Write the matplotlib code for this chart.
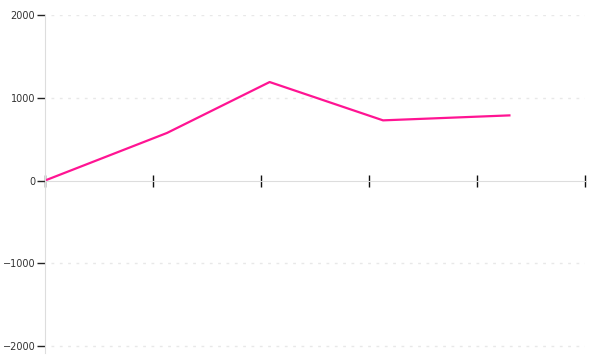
import matplotlib
matplotlib.use('Agg')
import matplotlib.pyplot as plt

plt.rcParams['font.family'] = 'DejaVu Sans'
plt.rcParams['font.size'] = 7

# data
x_vals = [0.0, 1.13, 2.08, 3.13, 4.30]
y_vals = [0, 575, 1190, 727, 787]
y_ticks = [-2000, -1000, 0, 1000, 2000]
x_ticks = [0, 1, 2, 3, 4, 5]

fig = plt.figure(figsize=(6, 3.6), dpi=100)
ax = fig.add_axes([45 / 600, 7 / 360, 540 / 600, 338 / 360])

ax.plot(x_vals, y_vals, color='#ff1493', linewidth=1.6, zorder=2)

ax.set_xlim(0, 5)
ax.set_ylim(-2084, 2000)

ax.set_yticks(y_ticks)
ax.set_xticks(x_ticks)
ax.set_xticklabels([])

for y in y_ticks:
    if y != 0:
        ax.axhline(y, xmin=0.012, color='#e8e8e8', linewidth=1, linestyle=(0, (2, 4)), zorder=1)

for s in ['top', 'right']:
    ax.spines[s].set_visible(False)
ax.spines['left'].set_color('#dddddd')
ax.spines['bottom'].set_position(('data', 0))
ax.spines['bottom'].set_color('#dddddd')

ax.tick_params(axis='y', direction='out', length=6, width=1, color='#222222',
               labelcolor='#333333', pad=1)
ax.tick_params(axis='x', direction='inout', length=9, width=1, color='#111111')

fig.savefig('out.png', dpi=100)
